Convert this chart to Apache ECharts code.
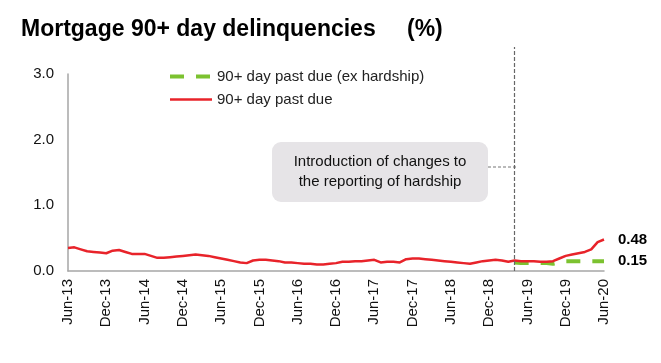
<!DOCTYPE html>
<html><head><meta charset="utf-8">
<script src="https://cdn.jsdelivr.net/npm/echarts@6/dist/echarts.min.js"></script>
<style>html,body{margin:0;padding:0;background:#fff}#c{width:661px;height:363px}</style>
</head><body><div id="c"></div>
<script>
const months = (function(){
  const m=['Jan','Feb','Mar','Apr','May','Jun','Jul','Aug','Sep','Oct','Nov','Dec'];
  const out=[];
  for(let y=2013;y<=2020;y++){for(let k=0;k<12;k++){
    if(y===2013&&k<5)continue; if(y===2020&&k>5)continue;
    out.push(m[k]+'-'+String(y).slice(2));}}
  return out;})();
const pastDue = [0.35,0.36,0.33,0.30,0.29,0.28,0.27,0.31,0.32,0.29,
 0.26,0.26,0.26,0.23,0.20,0.20,0.21,0.22,0.23,0.24,
 0.25,0.24,0.23,0.21,0.19,0.17,0.15,0.13,0.12,0.16,
 0.17,0.17,0.16,0.15,0.13,0.13,0.12,0.11,0.11,0.10,
 0.10,0.11,0.12,0.14,0.14,0.15,0.15,0.16,0.17,0.13,
 0.14,0.14,0.13,0.18,0.19,0.19,0.18,0.17,0.16,0.15,
 0.14,0.13,0.12,0.11,0.13,0.15,0.16,0.17,0.16,0.14,
 0.16,0.15,0.15,0.15,0.14,0.14,0.15,0.19,0.23,0.25,
 0.27,0.29,0.33,0.44,0.48];
const exHardshipStart = 70;
const exHardshipValues = [0.13,0.12,0.12,0.12,0.12,0.12,0.11,0.13,0.15,0.15,0.15,0.15,0.15,0.15,0.15];
const exHardship = months.map((m,i)=> i<exHardshipStart ? null : exHardshipValues[i-exHardshipStart]);
const yTicks = [0,1,2,3];
const changeMonth = 'Apr-19';
const seriesNames = ['90+ day past due (ex hardship)','90+ day past due'];

const RED='#e8232a', GREEN='#7cc230';
const FONT='Liberation Sans, Arial, sans-serif';
const chart = echarts.init(document.getElementById('c'));
chart.setOption({
  animation:false,
  textStyle:{fontFamily:FONT},
  title:[
    {text:'Mortgage 90+ day delinquencies',left:16,top:13,textStyle:{fontSize:23,fontWeight:'bold',color:'#000',fontFamily:FONT}},
    {text:'(%)',left:402,top:13,textStyle:{fontSize:23,fontWeight:'bold',color:'#000',fontFamily:FONT}}
  ],
  legend:{
    orient:'vertical',left:163,top:64,itemWidth:42,itemHeight:14,itemGap:8,
    data:[
      {name:seriesNames[0],lineStyle:{width:4,type:[14,12],color:GREEN}},
      {name:seriesNames[1],lineStyle:{width:2.5,color:RED}}
    ],
    textStyle:{fontSize:15,color:'#222',fontFamily:FONT},
    itemStyle:{opacity:0}
  },
  grid:[
    {left:68,right:57,top:74,bottom:92},
    {left:68,right:57,top:47,bottom:92}
  ],
  xAxis:[
    {type:'category',data:months,boundaryGap:false,gridIndex:0,
     axisLine:{lineStyle:{color:'#a6a6a6',width:1.5}},
     axisTick:{show:false},
     axisLabel:{interval:5,rotate:90,fontSize:15,color:'#111',margin:8,fontFamily:FONT}},
    {type:'category',data:months,boundaryGap:false,gridIndex:1,show:false}
  ],
  yAxis:[
    {type:'value',min:0,max:3,interval:1,gridIndex:0,
     axisLine:{show:true,lineStyle:{color:'#a6a6a6',width:1.5}},
     axisTick:{show:false},splitLine:{show:false},
     axisLabel:{fontSize:15,color:'#111',margin:14,fontFamily:FONT,formatter:v=>v.toFixed(1)}},
    {type:'value',min:0,max:1,gridIndex:1,show:false}
  ],
  series:[
    {name:seriesNames[0],type:'line',data:exHardship,symbol:'none',showSymbol:false,
     lineStyle:{color:GREEN,width:4,type:[14,12]},itemStyle:{color:GREEN},z:3,
     endLabel:{show:true,distance:14,fontSize:15,fontWeight:'bold',color:'#000',fontFamily:FONT,
       formatter:p=>p.value.toFixed(2)}},
    {name:seriesNames[1],type:'line',data:pastDue,symbol:'none',showSymbol:false,
     lineStyle:{color:RED,width:2.5},itemStyle:{color:RED},z:4,
     endLabel:{show:true,distance:14,offset:[0,0],fontSize:15,fontWeight:'bold',color:'#000',fontFamily:FONT,
       formatter:p=>p.value.toFixed(2)}},
    {name:'marker',type:'line',xAxisIndex:1,yAxisIndex:1,data:[],symbol:'none',
     markLine:{silent:true,symbol:'none',label:{show:false},
       lineStyle:{color:'#666',width:1.2,type:[4,2]},
       data:[{xAxis:changeMonth}]}}
  ],
  graphic:[
    {type:'line',shape:{x1:488,y1:167,x2:517,y2:167},style:{stroke:'#777',lineWidth:1.2,lineDash:[3,2]}},
    {type:'rect',shape:{x:272,y:142,width:216,height:60,r:9},style:{fill:'#e6e4e7'}},
    {type:'text',x:380,y:172,style:{text:'Introduction of changes to\nthe reporting of hardship',
      fill:'#111',font:'15px '+FONT,textAlign:'center',textVerticalAlign:'middle',lineHeight:20}}
  ]
});
</script></body></html>
